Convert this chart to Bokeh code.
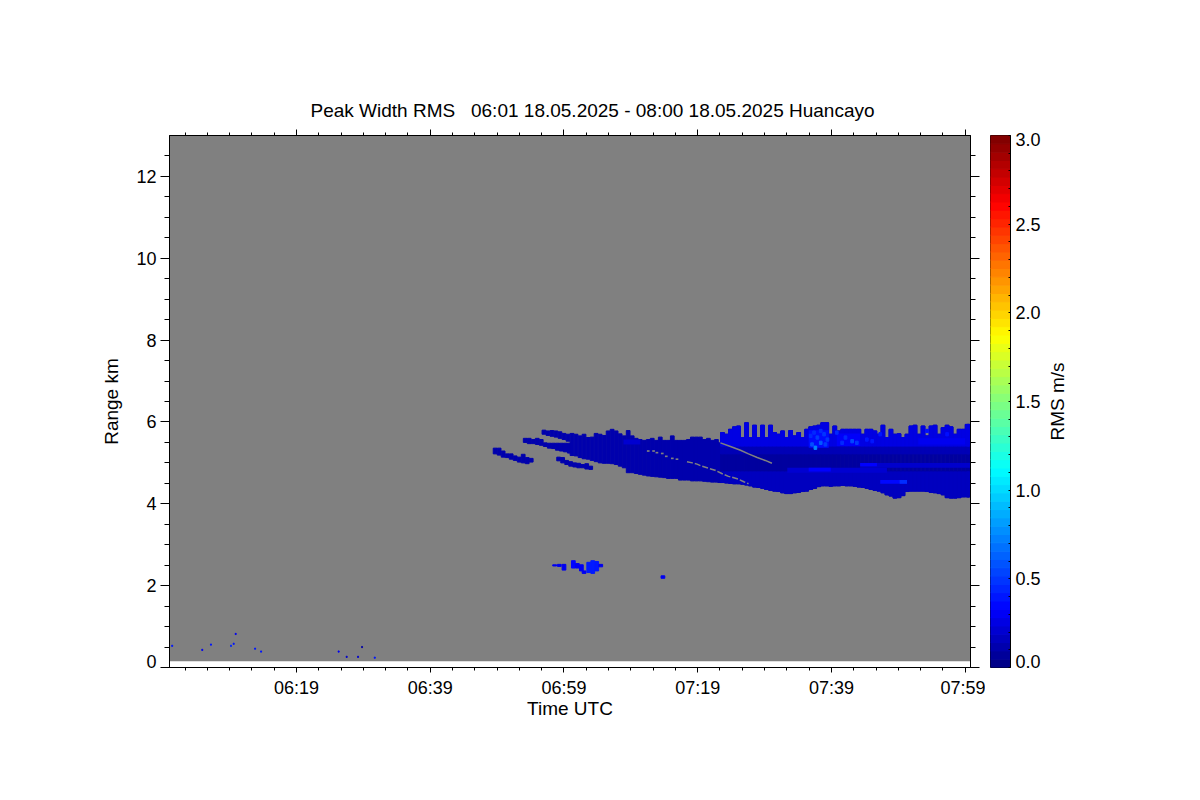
from bokeh.plotting import figure
from bokeh.layouts import row
from bokeh.models import (ColumnDataSource, LinearColorMapper, LinearAxis, FixedTicker, Title)
from bokeh.embed import file_html
from bokeh.resources import INLINE

FONT = "Liberation Sans"
FS = "18px"
FS_LABEL = "19px"

TITLE = "Peak Width RMS\u00a0\u00a0\u00a006:01 18.05.2025 - 08:00 18.05.2025 Huancayo"
X_TICKS = [19, 39, 59, 79, 99, 119]
X_LABELS = ["06:19", "06:39", "06:59", "07:19", "07:39", "07:59"]
X_MINOR = [2.33, 5.67, 9, 12.33, 15.67, 22.33, 25.67, 29, 32.33, 35.67, 42.33, 45.67, 49, 52.33, 55.67,
           62.33, 65.67, 69, 72.33, 75.67, 82.33, 85.67, 89, 92.33, 95.67, 102.33, 105.67, 109, 112.33, 115.67]
Y_TICKS = [0, 2, 4, 6, 8, 10, 12]
Y_LABEL_POS = [0.146, 2, 4, 6, 8, 10, 12]
Y_LABELS = ["0", "2", "4", "6", "8", "10", "12"]
Y_MINOR = [0.5, 1, 1.5, 2.5, 3, 3.5, 4.5, 5, 5.5, 6.5, 7, 7.5, 8.5, 9, 9.5, 10.5, 11, 11.5, 12.5]
CB_TICKS = [0, 0.5, 1, 1.5, 2, 2.5, 3]
CB_LABEL_POS = [0.034, 0.5, 1, 1.5, 2, 2.5, 2.978]
CB_LABELS = ["0.0", "0.5", "1.0", "1.5", "2.0", "2.5", "3.0"]
CB_MINOR = [0.1, 0.2, 0.3, 0.4, 0.6, 0.7, 0.8, 0.9, 1.1, 1.2, 1.3, 1.4, 1.6, 1.7, 1.8, 1.9, 2.1, 2.2, 2.3, 2.4, 2.6, 2.7, 2.8, 2.9]
NO_DATA_BOTTOM = 0.15

# lobe on the far left of the layer
lobe_a_t = [48.7, 49.3, 49.9, 50.5, 51.1, 51.7, 52.3, 52.9, 53.5, 54.1]
lobe_a_lo = [5.22, 5.19, 5.14, 5.13, 5.09, 5.06, 5.02, 5.00, 4.98, 5.02]
lobe_a_hi = [5.36, 5.36, 5.29, 5.22, 5.22, 5.17, 5.14, 5.21, 5.13, 5.11]

lobe_b_t = [53.2, 53.8, 54.4, 55.0, 55.6]
lobe_b_lo = [5.50, 5.47, 5.47, 5.45, 5.43]
lobe_b_hi = [5.60, 5.60, 5.57, 5.60, 5.57]

lobe_c_t = [58.2, 58.8, 59.4, 60.0, 60.6, 61.2, 61.8, 62.4, 63.0]
lobe_c_lo = [5.05, 5.00, 4.96, 4.92, 4.90, 4.88, 4.88, 4.85, 4.84]
lobe_c_hi = [5.14, 5.13, 5.06, 5.03, 5.00, 4.99, 4.96, 4.98, 4.92]

thin_t = [56.2, 56.8, 57.4, 58.0, 58.6, 59.2, 59.8]
thin_lo = [5.40, 5.36, 5.35, 5.31, 5.29, 5.27, 5.24]
thin_hi = [5.49, 5.48, 5.48, 5.48, 5.48, 5.48, 5.48]

# main layer, first part
main_t = [56.0, 56.6, 57.2, 57.8, 58.4, 59.0, 59.6, 60.2, 60.8, 61.4, 62.0, 62.6, 63.2, 63.8, 64.4, 65.0,
          65.6, 66.2, 66.8, 67.4, 68.0, 68.6, 69.2, 69.8, 70.4, 71.0, 71.6, 72.2, 72.8, 73.4, 74.0, 74.6,
          75.2, 75.8, 76.4, 77.0, 77.6, 78.2, 78.8, 79.4, 80.0, 80.6, 81.2, 81.8, 82.3]
main_hi = [5.80, 5.78, 5.79, 5.78, 5.76, 5.72, 5.70, 5.72, 5.70, 5.66, 5.70, 5.62, 5.63, 5.72, 5.70, 5.67,
           5.78, 5.82, 5.78, 5.71, 5.66, 5.79, 5.66, 5.60, 5.57, 5.55, 5.57, 5.60, 5.55, 5.63, 5.55, 5.55,
           5.66, 5.55, 5.55, 5.55, 5.57, 5.63, 5.63, 5.63, 5.57, 5.60, 5.55, 5.57, 5.49]
main_lo = [5.70, 5.67, 5.65, 5.63, 5.60, 5.57, 5.53, 5.18, 5.17, 5.13, 5.10, 5.09, 5.06, 5.03, 5.00, 4.99,
           4.99, 4.98, 4.96, 4.92, 4.88, 4.76, 4.76, 4.74, 4.72, 4.70, 4.68, 4.67, 4.66, 4.65, 4.64, 4.62,
           4.62, 4.62, 4.58, 4.58, 4.58, 4.56, 4.56, 4.56, 4.55, 4.54, 4.53, 4.53, 4.52]

# main layer, second part with the fingered top
late_t = [82.7, 83.3, 83.9, 84.5, 85.1, 85.7, 86.3, 86.9, 87.5, 88.1, 88.7, 89.3, 89.9, 90.5, 91.1, 91.7,
          92.3, 92.9, 93.5, 94.1, 94.7, 95.3, 95.9, 96.5, 97.1, 97.7, 98.3, 98.9, 99.5, 100.1, 100.7, 101.3,
          101.9, 102.5, 103.1, 103.7, 104.3, 104.9, 105.5, 106.1, 106.7, 107.3, 107.9, 108.5, 109.1, 109.7,
          110.3, 110.9, 111.5, 112.1, 112.7, 113.3, 113.9, 114.5, 115.1, 115.7, 116.3, 116.9, 117.5, 118.1,
          118.7, 119.3, 119.6]
late_hi = [5.74, 5.70, 5.82, 5.88, 5.90, 5.62, 5.98, 5.62, 5.92, 5.62, 5.92, 5.62, 5.92, 5.74, 5.70, 5.78,
           5.62, 5.79, 5.66, 5.74, 5.62, 5.82, 5.88, 5.90, 5.92, 5.98, 5.98, 5.70, 5.90, 5.78, 5.82, 5.82,
           5.82, 5.82, 5.82, 5.70, 5.82, 5.82, 5.78, 5.70, 5.92, 5.62, 5.82, 5.70, 5.71, 5.62,
           5.70, 5.90, 5.92, 5.70, 5.90, 5.66, 5.90, 5.92, 5.70, 5.86, 5.92, 5.88, 5.70, 5.82,
           5.82, 5.94, 5.94]
late_lo = [4.52, 4.51, 4.50, 4.49, 4.49, 4.48, 4.46, 4.44, 4.41, 4.40, 4.38, 4.35, 4.33, 4.31, 4.30, 4.27,
           4.25, 4.25, 4.27, 4.28, 4.30, 4.31, 4.35, 4.38, 4.42, 4.44, 4.44, 4.43, 4.44, 4.44, 4.45, 4.44,
           4.44, 4.43, 4.41, 4.40, 4.38, 4.35, 4.33, 4.31, 4.27, 4.22, 4.19, 4.14, 4.15, 4.20,
           4.30, 4.31, 4.31, 4.31, 4.31, 4.30, 4.28, 4.27, 4.25, 4.22, 4.15, 4.14, 4.14, 4.15,
           4.17, 4.17, 4.17]

# weaker echo near 2.5 km
mid_t = [57.6, 58.3, 59.0, 60.4, 61.0, 61.6, 62.0, 62.7, 63.3, 63.9, 64.5, 73.8]
mid_lo = [2.48, 2.47, 2.38, 2.43, 2.43, 2.36, 2.30, 2.32, 2.30, 2.36, 2.46, 2.18]
mid_hi = [2.51, 2.52, 2.52, 2.61, 2.54, 2.51, 2.36, 2.57, 2.61, 2.59, 2.52, 2.24]
mid_v = [0.3, 0.3, 0.3, 0.35, 0.3, 0.3, 0.3, 0.42, 0.42, 0.4, 0.3, 0.3]

# isolated specks close to the ground
speck_t = [0.4, 4.9, 6.2, 9.2, 9.6, 9.9, 12.8, 13.7, 25.3, 26.5, 28.2, 28.8, 30.7]
speck_r = [0.53, 0.43, 0.56, 0.53, 0.58, 0.82, 0.46, 0.39, 0.39, 0.26, 0.26, 0.50, 0.24]
speck_v = [0.4, 0.3, 0.4, 0.45, 0.4, 0.3, 0.4, 0.4, 0.3, 0.2, 0.2, 0.1, 0.4]

# brighter sub-areas inside the layer
area_t0 = [92.4, 103.3, 103.3, 95.6, 106.3, 109.2, 95.6, 99.8, 67.9, 112.0]
area_t1 = [107.3, 119.8, 105.8, 98.9, 110.3, 110.3, 98.6, 103.3, 70.4, 119.0]
area_r0 = [4.76, 4.88, 4.92, 4.79, 4.49, 4.49, 5.37, 5.41, 5.45, 5.45]
area_r1 = [4.88, 5.00, 5.00, 4.88, 4.58, 4.58, 5.80, 5.72, 5.57, 5.60]
area_v = [0.22, 0.20, 0.33, 0.33, 0.36, 0.48, 0.37, 0.32, 0.22, 0.30]

# single bright cells
cell_t = [96.6, 96.1, 97.4, 98.1, 96.9, 97.9, 97.4, 96.4, 98.4, 95.9, 102.1, 101.1, 102.8, 100.6, 99.8,
          104.3, 105.1, 106.3, 113.3, 116.3]
cell_r = [5.37, 5.45, 5.49, 5.45, 5.62, 5.70, 5.78, 5.74, 5.57, 5.66, 5.53, 5.62, 5.49, 5.49, 5.74,
          5.57, 5.53, 5.70, 5.78, 5.70]
cell_v = [0.75, 0.58, 0.62, 0.52, 0.52, 0.5, 0.46, 0.46, 0.5, 0.46, 0.56, 0.46, 0.5, 0.46, 0.46,
          0.4, 0.4, 0.4, 0.38, 0.38]

# gaps between merging layers
gap1_t = [82.4, 83.9, 85.4, 86.6, 87.9, 89.1, 90.1]
gap1_r = [5.49, 5.40, 5.31, 5.22, 5.13, 5.06, 4.99]
gap2_t = [77.4, 78.2, 78.9, 79.6, 80.4, 81.6, 82.6, 83.6, 83.9, 85.1, 85.9, 86.6]
gap2_r = [5.03, 5.00, 4.97, 4.92, 4.88, 4.82, 4.74, 4.67, 4.66, 4.60, 4.54, 4.49]
gap3_t = [71.6, 72.4, 72.9, 73.7, 74.3, 75.2, 75.9]
gap3_r = [5.29, 5.29, 5.25, 5.23, 5.16, 5.11, 5.09]

jet_anchor_pos = [0, 0.11, 0.375, 0.625, 0.875, 1]
jet_anchor_rgb = [(0, 0, 127), (0, 0, 255), (0, 255, 255), (255, 255, 0), (255, 0, 0), (127, 0, 0)]


def jet(n):
    out = []
    for i in range(n):
        f = i / (n - 1)
        for k in range(5):
            if f <= jet_anchor_pos[k + 1]:
                w = (f - jet_anchor_pos[k]) / (jet_anchor_pos[k + 1] - jet_anchor_pos[k])
                a, b = jet_anchor_rgb[k], jet_anchor_rgb[k + 1]
                out.append("#%02x%02x%02x" % tuple(round(a[c] + w * (b[c] - a[c])) for c in range(3)))
                break
    return out


mapper = LinearColorMapper(palette=jet(256), low=0, high=3)
fill = {"field": "v", "transform": mapper}

p = figure(width=985, height=767, x_range=(0, 119.8), y_range=(0, 13), output_backend="svg",
           toolbar_location=None, min_border_left=169, min_border_top=135, min_border_right=15,
           min_border_bottom=100, background_fill_color="white", border_fill_color="white",
           outline_line_color="black", x_axis_type=None, y_axis_type=None)
p.grid.visible = False

p.quad(left=[0], right=[119.8], bottom=[NO_DATA_BOTTOM], top=[13], fill_color="#808080", line_color=None)


def columns(t, lo, hi, v, w=0.56):
    vals = v if isinstance(v, list) else [v] * len(t)
    src = ColumnDataSource(dict(left=[a - w / 2 for a in t], right=[a + w / 2 for a in t], bottom=lo, top=hi, v=vals))
    p.quad(left="left", right="right", bottom="bottom", top="top", fill_color=fill, line_color=fill,
           line_width=1, source=src)


columns(lobe_a_t, lobe_a_lo, lobe_a_hi, 0.12)
columns(lobe_b_t, lobe_b_lo, lobe_b_hi, 0.12)
columns(lobe_c_t, lobe_c_lo, lobe_c_hi, 0.12)
columns(thin_t, thin_lo, thin_hi, 0.12)
columns(main_t, main_lo, main_hi, 0.12)
columns(late_t, late_lo, late_hi, 0.09)
columns(late_t, late_lo, [min(4.78, h) for h in late_hi], 0.17)
columns(late_t, [5.22] * len(late_t), [min(5.41, h) for h in late_hi], 0.15)
columns(late_t, [5.41] * len(late_t), late_hi, 0.26)
columns(mid_t, mid_lo, mid_hi, mid_v)
columns(speck_t, [r - 0.015 for r in speck_r], [r + 0.015 for r in speck_r], speck_v, w=0.15)

area_src = ColumnDataSource(dict(left=area_t0, right=area_t1, bottom=area_r0, top=area_r1, v=area_v))
p.quad(left="left", right="right", bottom="bottom", top="top", fill_color=fill, line_color=None, source=area_src)
columns(cell_t, [r - 0.04 for r in cell_r], [r + 0.04 for r in cell_r], cell_v, w=0.4)

p.line(gap1_t, gap1_r, line_color="#808080", line_width=1.5)
p.line(gap2_t, gap2_r, line_color="#808080", line_width=1.5, line_dash="6 2")
gap3_w = 0.2
p.quad(left=[t - gap3_w for t in gap3_t], right=[t + gap3_w for t in gap3_t],
       bottom=[r - 0.02 for r in gap3_r], top=[r + 0.02 for r in gap3_r], fill_color="#808080", line_color=None)


def style(ax, major_in=0, major_out=0, minor_out=0):
    ax.axis_line_color = "black"
    ax.major_tick_line_color = "black"
    ax.minor_tick_line_color = "black"
    ax.major_tick_in = major_in
    ax.minor_tick_in = 0
    ax.major_tick_out = major_out
    ax.minor_tick_out = minor_out
    ax.major_label_text_font = FONT
    ax.major_label_text_font_size = FS
    ax.major_label_text_color = "black"
    ax.axis_label_text_font = FONT
    ax.axis_label_text_font_size = FS_LABEL
    ax.axis_label_text_font_style = "normal"
    ax.axis_label_text_color = "black"


x_ticker = FixedTicker(ticks=X_TICKS, minor_ticks=X_MINOR)
y_ticker = FixedTicker(ticks=Y_TICKS, minor_ticks=Y_MINOR)

bottom = LinearAxis(ticker=x_ticker, axis_label="Time UTC",
                    major_label_overrides=dict(zip(X_TICKS, X_LABELS)))
style(bottom, major_out=5, minor_out=3)
bottom.major_label_standoff = 5
bottom.axis_label_standoff = -3
p.add_layout(bottom, "below")

top = LinearAxis(ticker=x_ticker, major_label_overrides={t: "" for t in X_TICKS})
style(top, major_out=6, minor_out=3)
top.major_label_standoff = 0
p.add_layout(top, "above")

# ticks only, next to the frame
left = LinearAxis(ticker=y_ticker, major_label_overrides={t: "" for t in Y_TICKS})
style(left, major_out=9, minor_out=5)
left.major_label_standoff = 0
p.add_layout(left, "left")

# the labels, which are not all placed at their ticks
left_labels = LinearAxis(ticker=FixedTicker(ticks=Y_LABEL_POS), axis_label="Range km",
                         major_label_overrides=dict(zip(Y_LABEL_POS, Y_LABELS)))
style(left_labels)
left_labels.axis_line_color = None
left_labels.major_tick_line_color = None
left_labels.minor_tick_line_color = None
left_labels.major_label_standoff = 4
left_labels.axis_label_standoff = 11
p.add_layout(left_labels, "left")

right = LinearAxis(ticker=y_ticker, major_label_overrides={t: "" for t in Y_TICKS})
style(right, major_out=9, minor_out=5)
right.major_label_standoff = 0
p.add_layout(right, "right")

p.add_layout(Title(text=TITLE, align="left", offset=141, standoff=17, text_font=FONT, text_font_size="19px",
                   text_font_style="normal", text_color="black"), "above")

# colour bar
cb = figure(width=58, height=767, x_range=(0, 1), y_range=(0, 3), output_backend="svg",
            toolbar_location=None, min_border_left=5, min_border_right=32, min_border_top=135,
            min_border_bottom=100, outline_line_color="black", x_axis_type=None, y_axis_type=None,
            background_fill_color="white")
cb.grid.visible = False
n_bands = 64
band_lo = [3 * i / n_bands for i in range(n_bands)]
band_hi = [3 * (i + 1) / n_bands for i in range(n_bands)]
band_v = [(a + b) / 2 for a, b in zip(band_lo, band_hi)]
cb.quad(left=0, right=1, bottom="bottom", top="top", fill_color=fill, line_color=fill,
        source=ColumnDataSource(dict(bottom=band_lo, top=band_hi, v=band_v)))
cb_ticks_axis = LinearAxis(ticker=FixedTicker(ticks=CB_TICKS, minor_ticks=CB_MINOR),
                           major_label_overrides={t: "" for t in CB_TICKS})
style(cb_ticks_axis)
cb_ticks_axis.major_tick_in = 2
cb_ticks_axis.minor_tick_in = 2
cb_ticks_axis.major_label_standoff = 0
cb.add_layout(cb_ticks_axis, "right")

cb_axis = LinearAxis(ticker=FixedTicker(ticks=CB_LABEL_POS),
                     major_label_overrides=dict(zip(CB_LABEL_POS, CB_LABELS)))
style(cb_axis)
cb_axis.axis_line_color = None
cb_axis.major_tick_line_color = None
cb_axis.minor_tick_line_color = None
cb_axis.major_label_standoff = 5
cb.add_layout(cb_axis, "right")

# a narrow figure that only carries the colour bar's title, reading upwards
unit = figure(width=24, height=767, x_range=(0, 1), y_range=(0, 3), output_backend="svg",
              toolbar_location=None, min_border_left=12, min_border_right=0, min_border_top=135,
              min_border_bottom=100, outline_line_color=None, x_axis_type=None, y_axis_type=None,
              background_fill_color="white")
unit.grid.visible = False
unit.quad(left=[0], right=[1], bottom=[0], top=[3], fill_color="white", line_color=None)
unit_axis = LinearAxis(ticker=FixedTicker(ticks=[]), axis_label="RMS m/s")
style(unit_axis)
unit_axis.axis_line_color = None
unit_axis.major_label_standoff = 0
unit_axis.axis_label_standoff = 0
unit.add_layout(unit_axis, "left")

open("out.html", "w").write(file_html(row(p, cb, unit), INLINE))
